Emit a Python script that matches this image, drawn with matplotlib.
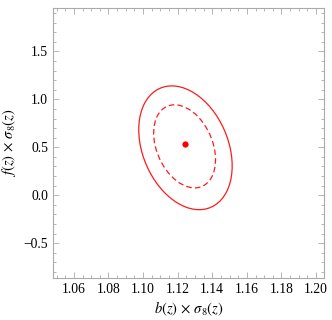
import numpy as np
import matplotlib
matplotlib.use('Agg')
import matplotlib.pyplot as plt
from matplotlib.patches import Ellipse
from matplotlib.ticker import MultipleLocator

plt.rcParams['font.family']=['Liberation Serif','DejaVu Serif']
plt.rcParams['mathtext.fontset']='stix'

# best fit point
best_b=1.1242
best_f=0.532

# contours: centre, sigma in b, sigma in f, covariance
cont_cx=[1.1245,1.1240]
cont_cy=[0.495,0.510]
cont_sb=[0.0270,0.0179]
cont_sf=[0.645,0.433]
cont_cov=[-0.0051,-0.0025]
cont_style=['-','--']

xlim=(1.048,1.2046)
ylim=(-0.863,1.952)

fig=plt.figure(figsize=(3.32,3.20),dpi=100)
ax=fig.add_axes([0.16,0.131,0.816,0.844])

for cx,cy,sb,sf,cv,ls in zip(cont_cx,cont_cy,cont_sb,cont_sf,cont_cov,cont_style):
    C=np.array([[sb**2,cv],[cv,sf**2]])
    vals,vecs=np.linalg.eigh(C)
    ang=np.degrees(np.arctan2(vecs[1,1],vecs[0,1]))
    e=Ellipse((cx,cy),2*np.sqrt(vals[1]),2*np.sqrt(vals[0]),angle=ang,
              fill=False,edgecolor='#ff1a1a',lw=0.9,ls=ls)
    if ls=='--':e.set_linestyle((0,(4.5,2.5)))
    ax.add_patch(e)

ax.plot([best_b],[best_f],'o',color='#ff0000',ms=4.5,mec='none')

ax.set_xlim(*xlim)
ax.set_ylim(*ylim)
ax.xaxis.set_major_locator(MultipleLocator(0.02))
ax.xaxis.set_minor_locator(MultipleLocator(0.005))
ax.yaxis.set_major_locator(MultipleLocator(0.5))
ax.yaxis.set_minor_locator(MultipleLocator(0.1))
ax.xaxis.set_major_formatter(matplotlib.ticker.FuncFormatter(lambda v,p:f'{v:.2f}'))
ax.yaxis.set_major_formatter(matplotlib.ticker.FuncFormatter(lambda v,p:f'{v:.1f}'.replace('-','\u2212')))
ax.tick_params(which='both',direction='in',top=True,right=True,color='#aaaaaa',labelsize=9.8,width=0.6)
ax.tick_params(which='major',length=4)
ax.tick_params(which='minor',length=2)
for s in ax.spines.values():
    s.set_color('#aaaaaa')
    s.set_linewidth(0.8)

ax.set_xlabel(r'$b(z)\,\times\,\sigma_8(z)$',fontsize=10.5,labelpad=3)
ax.set_ylabel(r'$f(z)\,\times\,\sigma_8(z)$',fontsize=10.5,labelpad=4)

fig.savefig('out.png',dpi=100)
